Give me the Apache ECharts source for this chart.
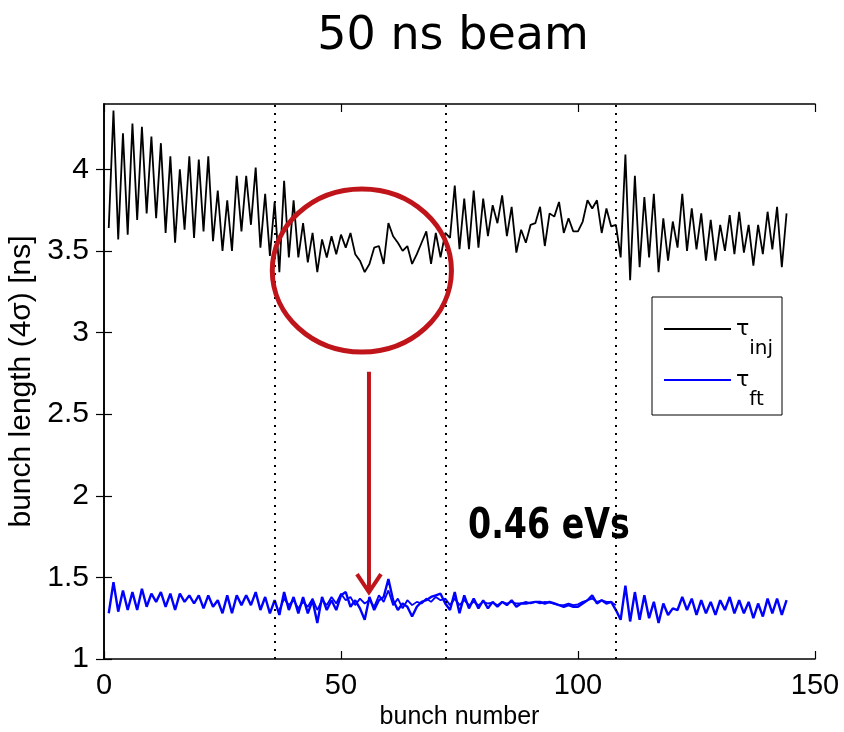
<!DOCTYPE html>
<html>
<head>
<meta charset="utf-8">
<title>50 ns beam</title>
<script src="https://cdn.jsdelivr.net/npm/echarts@6/dist/echarts.min.js"></script>
<style>
  html, body { margin: 0; padding: 0; background: #fff; }
  #chart { width: 844px; height: 732px; }
</style>
</head>
<body>
<div id="chart"></div>
<script>
// Bunch length per bunch along a train of 4 batches x 36 bunches (50 ns spacing)
const titleText = '50 ns beam';
const xTicks = [0, 50, 100, 150];
const yTicks = [1, 1.5, 2, 2.5, 3, 3.5, 4];
const batchEdges = [36, 72, 108];
const seriesNames = ['τinj', 'τft'];
const noteText = '0.46 eVs';

// bunch length at injection, bunches 1..144 [ns]
const tauInj = [
  3.64, 4.36, 3.57, 4.22, 3.60, 4.28, 3.69, 4.26, 3.73, 4.20, 3.70, 4.16,
  3.61, 4.08, 3.55, 4.00, 3.63, 4.08, 3.58, 4.06, 3.62, 4.08, 3.56, 3.87,
  3.50, 3.81, 3.50, 3.96, 3.62, 3.96, 3.66, 4.01, 3.52, 3.85, 3.47, 3.80,
  3.37, 3.93, 3.46, 3.81, 3.46, 3.67, 3.43, 3.61, 3.37, 3.57, 3.46, 3.59,
  3.48, 3.60, 3.52, 3.61, 3.48, 3.44, 3.37, 3.42, 3.52, 3.53, 3.42, 3.67,
  3.59, 3.55, 3.50, 3.53, 3.42, 3.48, 3.55, 3.62, 3.42, 3.61, 3.46, 3.61,
  3.58, 3.90, 3.51, 3.82, 3.51, 3.87, 3.52, 3.82, 3.59, 3.78, 3.67, 3.84,
  3.59, 3.77, 3.49, 3.63, 3.55, 3.66, 3.67, 3.77, 3.53, 3.73, 3.71, 3.80,
  3.61, 3.70, 3.62, 3.62, 3.68, 3.81, 3.76, 3.81, 3.61, 3.76, 3.65, 3.66,
  3.46, 4.09, 3.32, 3.96, 3.40, 3.83, 3.46, 3.85, 3.37, 3.70, 3.44, 3.68,
  3.52, 3.85, 3.50, 3.76, 3.51, 3.73, 3.44, 3.69, 3.44, 3.66, 3.50, 3.72,
  3.48, 3.74, 3.49, 3.66, 3.41, 3.66, 3.48, 3.74, 3.51, 3.77, 3.40, 3.73
];

// bunch length at flat top, bunches 1..144 [ns]
const tauFt = [
  1.28, 1.47, 1.29, 1.42, 1.30, 1.41, 1.30, 1.43, 1.32, 1.40, 1.35, 1.41,
  1.32, 1.40, 1.30, 1.40, 1.35, 1.39, 1.34, 1.39, 1.31, 1.39, 1.32, 1.36,
  1.28, 1.39, 1.28, 1.39, 1.33, 1.39, 1.33, 1.41, 1.30, 1.38, 1.28, 1.36,
  1.27, 1.41, 1.30, 1.38, 1.28, 1.38, 1.28, 1.36, 1.22, 1.38, 1.30, 1.36,
  1.30, 1.39, 1.41, 1.32, 1.36, 1.31, 1.24, 1.38, 1.30, 1.36, 1.38, 1.49,
  1.36, 1.30, 1.34, 1.32, 1.26, 1.32, 1.35, 1.36, 1.38, 1.39, 1.40, 1.34,
  1.30, 1.41, 1.28, 1.39, 1.31, 1.37, 1.31, 1.36, 1.31, 1.35, 1.32, 1.35,
  1.33, 1.36, 1.32, 1.34, 1.34, 1.345, 1.35, 1.35, 1.34, 1.35, 1.34, 1.33,
  1.32, 1.33, 1.32, 1.32, 1.34, 1.36, 1.39, 1.34, 1.36, 1.34, 1.35, 1.30,
  1.24, 1.45, 1.23, 1.41, 1.24, 1.39, 1.25, 1.35, 1.22, 1.34, 1.27, 1.31,
  1.30, 1.38, 1.30, 1.37, 1.27, 1.36, 1.28, 1.35, 1.27, 1.36, 1.30, 1.38,
  1.28, 1.36, 1.28, 1.35, 1.25, 1.34, 1.26, 1.37, 1.28, 1.37, 1.27, 1.36
];

// second flat-top acquisition, bunches 37..108 [ns]
const tauFtRepeatFirstBunch = 37;
const tauFtRepeat = [
  1.30, 1.37, 1.33, 1.36, 1.31, 1.35, 1.32, 1.37, 1.30, 1.36, 1.33, 1.38,
  1.34, 1.40, 1.36, 1.38, 1.33, 1.37, 1.34, 1.36, 1.32, 1.39, 1.35, 1.42,
  1.33, 1.37, 1.31, 1.36, 1.33, 1.35, 1.34, 1.37, 1.35, 1.38, 1.36, 1.37,
  1.33, 1.37, 1.33, 1.36, 1.33, 1.35, 1.33, 1.35, 1.34, 1.345, 1.33, 1.35,
  1.34, 1.35, 1.34, 1.34, 1.35, 1.34, 1.35, 1.34, 1.35, 1.345, 1.34, 1.33,
  1.33, 1.34, 1.33, 1.335, 1.35, 1.36, 1.37, 1.35, 1.36, 1.35, 1.35, 1.33
];

const toPoints = (values, firstBunch) => values.map((v, i) => [firstBunch + i, v]);

const axisFont = 'Liberation Sans, Arial, sans-serif';
const red = '#c0141b';

const chart = echarts.init(document.getElementById('chart'), null, { renderer: 'canvas' });

const tickStyle = { show: true, inside: true, length: 8, lineStyle: { color: '#000', width: 1.2 } };
const lineStyleAxis = { show: true, lineStyle: { color: '#000', width: 1.6 } };

// legend frame
const legendBox = { x: 652, y: 297, width: 130, height: 118 };

chart.setOption({
  backgroundColor: '#fff',
  animation: false,
  title: {
    text: titleText,
    left: 448,
    top: 9,
    textAlign: 'center',
    textStyle: { fontFamily: 'DejaVu Sans', fontSize: 46, fontWeight: 'normal', color: '#000' }
  },
  grid: { left: 104, right: 29, top: 104, bottom: 73, containLabel: false, outerBoundsMode: 'none' },
  legend: {
    data: seriesNames,
    orient: 'vertical',
    left: 664,
    top: 318,
    icon: 'rect',
    itemWidth: 67,
    itemHeight: 2,
    itemGap: 10,
    padding: 0,
    selectedMode: false,
    formatter: name => name === 'τinj' ? '{t|τ}{s|inj}' : '{t|τ}{s|ft}',
    textStyle: {
      color: '#000',
      rich: {
        t: { fontFamily: 'DejaVu Sans', fontSize: 22, lineHeight: 60, color: '#000' },
        s: { fontFamily: 'DejaVu Sans', fontSize: 20, lineHeight: 20, verticalAlign: 'bottom', color: '#000' }
      }
    }
  },
  xAxis: [
    {
      type: 'value', position: 'bottom', min: 0, max: 150, interval: 50,
      axisLine: lineStyleAxis, axisTick: tickStyle, splitLine: { show: false },
      axisLabel: { color: '#000', fontFamily: axisFont, fontSize: 29, margin: 12,
        customValues: xTicks },
      name: 'bunch number', nameLocation: 'middle', nameGap: 46,
      nameTextStyle: { color: '#000', fontFamily: axisFont, fontSize: 25 }
    },
    {
      type: 'value', position: 'top', min: 0, max: 150, interval: 50,
      axisLine: lineStyleAxis, axisTick: tickStyle, splitLine: { show: false },
      axisLabel: { show: false }
    }
  ],
  yAxis: [
    {
      type: 'value', position: 'left', min: 1, max: 4.4, interval: 0.5,
      axisLine: lineStyleAxis,
      axisTick: Object.assign({}, tickStyle, { customValues: yTicks }),
      splitLine: { show: false },
      axisLabel: { color: '#000', fontFamily: axisFont, fontSize: 30, margin: 15,
        customValues: yTicks },
      name: 'bunch length (4σ) [ns]', nameLocation: 'middle', nameGap: 61, nameRotate: 90,
      nameTextStyle: { color: '#000', fontFamily: axisFont, fontSize: 30 }
    },
    {
      type: 'value', position: 'right', min: 1, max: 4.4, interval: 0.5,
      axisLine: lineStyleAxis,
      axisTick: Object.assign({}, tickStyle, { customValues: yTicks }),
      splitLine: { show: false },
      axisLabel: { show: false }
    }
  ],
  series: [
    {
      name: 'τinj', type: 'line', xAxisIndex: 0, yAxisIndex: 0,
      data: toPoints(tauInj, 1), symbol: 'none', silent: true,
      lineStyle: { color: '#000', width: 1.8 }, itemStyle: { color: '#000' },
      z: 3,
      markLine: {
        silent: true, symbol: ['none', 'none'], label: { show: false },
        lineStyle: { color: '#000', width: 2, type: [2, 6] },
        data: batchEdges.map(b => ({ xAxis: b }))
      }
    },
    {
      name: 'τft', type: 'line', xAxisIndex: 0, yAxisIndex: 0,
      data: toPoints(tauFtRepeat, tauFtRepeatFirstBunch), symbol: 'none', silent: true,
      lineStyle: { color: '#0000ff', width: 1.8 }, itemStyle: { color: '#0000ff' }, z: 3
    },
    {
      name: 'τft', type: 'line', xAxisIndex: 0, yAxisIndex: 0,
      data: toPoints(tauFt, 1), symbol: 'none', silent: true,
      lineStyle: { color: '#0000ff', width: 2.4 }, itemStyle: { color: '#0000ff' }, z: 4
    }
  ]
});

// Annotation: circle around the second batch, arrow to the flat-top values, emittance note
const px = p => chart.convertToPixel({ xAxisIndex: 0, yAxisIndex: 0 }, p);
const ringCentre = px([54.4, 3.38]);
const ringEdge = px([54.4 + 18.9, 3.38 + 0.5]);
const arrowTop = px([55.9, 2.76]);
const arrowTip = px([55.9, 1.41]);
const notePos = px([76.8, 1.81]);
const headW = 12, headH = 18;

chart.setOption({
  graphic: [
    {
      type: 'rect', silent: true, z: 0,
      shape: legendBox,
      style: { fill: '#fff', stroke: '#000', lineWidth: 1 }
    },
    {
      type: 'ellipse', silent: true, z: 10,
      shape: { cx: ringCentre[0], cy: ringCentre[1],
               rx: ringEdge[0] - ringCentre[0], ry: ringCentre[1] - ringEdge[1] },
      style: { fill: 'none', stroke: red, lineWidth: 5 }
    },
    {
      type: 'line', silent: true, z: 10,
      shape: { x1: arrowTop[0], y1: arrowTop[1], x2: arrowTip[0], y2: arrowTip[1] - 2 },
      style: { stroke: red, lineWidth: 4 }
    },
    {
      type: 'polyline', silent: true, z: 10,
      shape: { points: [[arrowTip[0] - headW, arrowTip[1] - headH], [arrowTip[0], arrowTip[1]],
                        [arrowTip[0] + headW, arrowTip[1] - headH]] },
      style: { fill: 'none', stroke: red, lineWidth: 4, lineJoin: 'miter' }
    },
    {
      type: 'text', silent: true, z: 10,
      x: notePos[0], y: notePos[1], scaleY: 1.15,
      style: { text: noteText, fill: '#000', fontSize: 37, fontWeight: 'bold',
               fontFamily: '"DejaVu Sans Condensed", "DejaVu Sans", sans-serif',
               align: 'left', verticalAlign: 'middle' }
    }
  ]
});
</script>
</body>
</html>
